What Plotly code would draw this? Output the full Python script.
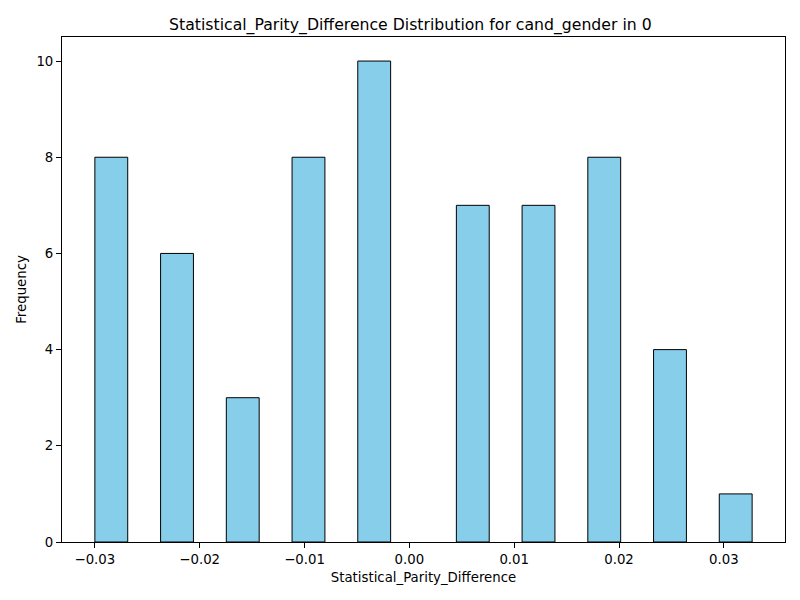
import numpy as np
import plotly.graph_objects as go

# histogram of Statistical_Parity_Difference, 20 bins
data_min = -0.0300
data_max = 0.0327
counts = [8, 0, 6, 0, 3, 0, 8, 0, 10, 0, 0, 7, 0, 7, 0, 8, 0, 4, 0, 1]
x_ticks = [-0.03, -0.02, -0.01, 0.00, 0.01, 0.02, 0.03]
x_tick_labels = ["\u22120.03", "\u22120.02", "\u22120.01", "0.00", "0.01", "0.02", "0.03"]
y_ticks = [0, 2, 4, 6, 8, 10]

edges = np.linspace(data_min, data_max, len(counts) + 1)
centers = (edges[:-1] + edges[1:]) / 2
bin_w = edges[1] - edges[0]
span = data_max - data_min

# empty bins would leave an outline on the baseline, so skip them
keep = np.array(counts) > 0

fig = go.Figure(go.Bar(
    x=centers[keep],
    y=np.array(counts)[keep],
    width=bin_w,
    marker=dict(color="#87CEEB", line=dict(color="black", width=1)),
))

axis_style = dict(
    showgrid=False,
    zeroline=False,
    showline=True,
    linecolor="black",
    linewidth=1,
    mirror=True,
    ticks="outside",
    ticklen=5,
    tickcolor="black",
    automargin=False,
    tickfont=dict(size=13.3, color="black"),
)

fig.update_layout(
    width=800,
    height=600,
    margin=dict(l=54, r=23, t=29, b=66),
    plot_bgcolor="white",
    paper_bgcolor="white",
    font=dict(family="DejaVu Sans", color="black"),
    showlegend=False,
    title=dict(
        text="Statistical_Parity_Difference Distribution for cand_gender in 0",
        x=0.503, xanchor="center", y=0.972, yanchor="middle",
        font=dict(size=15.7, color="black"),
    ),
    xaxis=dict(
        range=[data_min - 0.05 * span, data_max + 0.05 * span],
        tickvals=x_ticks,
        ticktext=x_tick_labels,
        title=dict(text="Statistical_Parity_Difference", font=dict(size=13.3), standoff=6),
        **axis_style,
    ),
    yaxis=dict(
        range=[0, 10.5],
        tickvals=y_ticks,
        title=dict(text="Frequency", font=dict(size=13.3), standoff=6),
        **axis_style,
    ),
)

fig.write_html("out.html")
